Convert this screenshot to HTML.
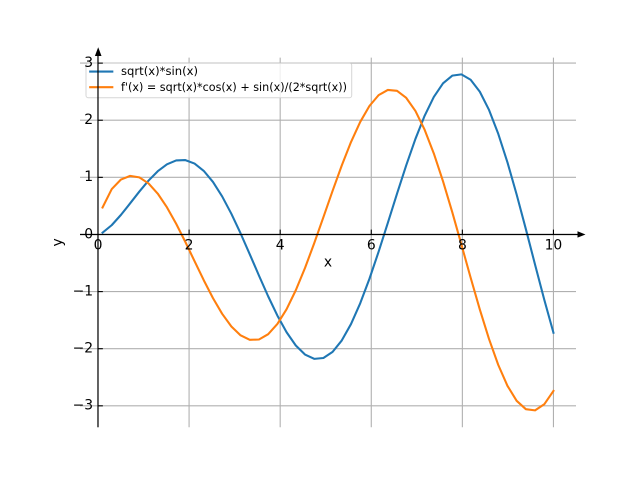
<!DOCTYPE html>
<html>
<head>
<meta charset="utf-8">
<style>
html,body{margin:0;padding:0;background:#ffffff;}
svg{display:block;}
text{font-family:"DejaVu Sans","Liberation Sans",sans-serif;fill:#000;}
</style>
</head>
<body>
<svg width="640" height="480" viewBox="0 0 640 480" xmlns="http://www.w3.org/2000/svg">
<rect x="0" y="0" width="640" height="480" fill="#ffffff"/>
<!-- grid -->
<g stroke="#b0b0b0" stroke-width="1.1" fill="none">
<line x1="97.99" y1="57.6" x2="97.99" y2="427.2"/>
<line x1="189.08" y1="57.6" x2="189.08" y2="427.2"/>
<line x1="280.18" y1="57.6" x2="280.18" y2="427.2"/>
<line x1="371.27" y1="57.6" x2="371.27" y2="427.2"/>
<line x1="462.36" y1="57.6" x2="462.36" y2="427.2"/>
<line x1="553.45" y1="57.6" x2="553.45" y2="427.2"/>
<line x1="80" y1="63.11" x2="576" y2="63.11"/>
<line x1="80" y1="120.23" x2="576" y2="120.23"/>
<line x1="80" y1="177.35" x2="576" y2="177.35"/>
<line x1="80" y1="234.47" x2="576" y2="234.47"/>
<line x1="80" y1="291.59" x2="576" y2="291.59"/>
<line x1="80" y1="348.71" x2="576" y2="348.71"/>
<line x1="80" y1="405.83" x2="576" y2="405.83"/>
</g>
<!-- series -->
<polyline fill="none" stroke="#1f77b4" stroke-width="2.08" stroke-linejoin="round" stroke-linecap="square" points="102.55,232.67 111.75,225.13 120.95,214.88 130.15,203.33 139.35,191.56 148.56,180.56 157.76,171.21 166.96,164.29 176.16,160.43 185.37,160.09 194.57,163.55 203.77,170.88 212.97,181.95 222.17,196.44 231.38,213.81 240.58,233.36 249.78,254.27 258.98,275.61 268.19,296.37 277.39,315.57 286.59,332.23 295.79,345.47 304.99,354.54 314.20,358.85 323.40,358.00 332.60,351.84 341.80,340.42 351.00,324.06 360.21,303.29 369.41,278.86 378.61,251.72 387.81,222.95 397.02,193.73 406.22,165.31 415.42,138.93 424.62,115.78 433.82,96.93 443.03,83.31 452.23,75.64 461.43,74.39 470.63,79.78 479.84,91.75 489.04,109.95 498.24,133.76 507.44,162.30 516.64,194.50 525.85,229.06 535.05,264.61 544.25,299.66 553.45,332.74"/>
<polyline fill="none" stroke="#ff7f0e" stroke-width="2.08" stroke-linejoin="round" stroke-linecap="square" points="102.55,207.48 111.75,189.04 120.95,179.53 130.15,175.90 139.35,177.36 148.56,183.44 157.76,193.64 166.96,207.33 176.16,223.76 185.37,242.03 194.57,261.20 203.77,280.22 212.97,298.09 222.17,313.81 231.38,326.48 240.58,335.35 249.78,339.82 258.98,339.49 268.19,334.19 277.39,323.98 286.59,309.15 295.79,290.25 304.99,267.98 314.20,243.27 323.40,217.17 332.60,190.81 341.80,165.37 351.00,142.04 360.21,121.92 369.41,106.01 378.61,95.14 387.81,89.94 397.02,90.80 406.22,97.85 415.42,110.95 424.62,129.71 433.82,153.45 443.03,181.28 452.23,212.10 461.43,244.66 470.63,277.60 479.84,309.53 489.04,339.05 498.24,364.86 507.44,385.77 516.64,400.80 525.85,409.17 535.05,410.40 544.25,404.29 553.45,390.95"/>
<!-- legend -->
<rect x="86" y="63.1" width="265.7" height="34.6" rx="2.2" ry="2.2" fill="#ffffff" fill-opacity="0.8" stroke="#cccccc" stroke-opacity="0.8" stroke-width="1"/>
<line x1="90.2" y1="71.6" x2="112.3" y2="71.6" stroke="#1f77b4" stroke-width="2.08" stroke-linecap="square"/>
<line x1="90.2" y1="87.2" x2="112.3" y2="87.2" stroke="#ff7f0e" stroke-width="2.08" stroke-linecap="square"/>
<text x="121" y="75.2" font-size="11.1" textLength="77" lengthAdjust="spacingAndGlyphs">sqrt(x)*sin(x)</text>
<text x="121" y="91.1" font-size="11.1" textLength="226" lengthAdjust="spacingAndGlyphs">f'(x) = sqrt(x)*cos(x) + sin(x)/(2*sqrt(x))</text>
<!-- spines -->
<g stroke="#000" stroke-width="1.2" fill="none">
<line x1="80" y1="234.47" x2="579" y2="234.47"/>
<line x1="97.99" y1="427.2" x2="97.99" y2="54"/>
</g>
<!-- ticks (direction in) -->
<g stroke="#000" stroke-width="1.1">
<line x1="189.08" y1="234.47" x2="189.08" y2="229.6"/>
<line x1="280.18" y1="234.47" x2="280.18" y2="229.6"/>
<line x1="371.27" y1="234.47" x2="371.27" y2="229.6"/>
<line x1="462.36" y1="234.47" x2="462.36" y2="229.6"/>
<line x1="553.45" y1="234.47" x2="553.45" y2="229.6"/>
<line x1="97.99" y1="63.11" x2="102.85" y2="63.11"/>
<line x1="97.99" y1="120.23" x2="102.85" y2="120.23"/>
<line x1="97.99" y1="177.35" x2="102.85" y2="177.35"/>
<line x1="97.99" y1="291.59" x2="102.85" y2="291.59"/>
<line x1="97.99" y1="348.71" x2="102.85" y2="348.71"/>
<line x1="97.99" y1="405.83" x2="102.85" y2="405.83"/>
</g>
<!-- arrows -->
<polygon points="585.5,234.47 577.5,231.3 577.5,237.65" fill="#000"/>
<polygon points="98.2,47.3 94.9,56 101.5,56" fill="#000"/>
<!-- x tick labels -->
<g font-size="13.9" text-anchor="middle">
<text x="97.99" y="249.3">0</text>
<text x="189.08" y="249.3">2</text>
<text x="280.18" y="249.3">4</text>
<text x="371.27" y="249.3">6</text>
<text x="462.36" y="249.3">8</text>
<text x="553.45" y="249.3">10</text>
</g>
<!-- y tick labels -->
<g font-size="13.9" text-anchor="end">
<text x="93.1" y="67.0">3</text>
<text x="93.1" y="124.1">2</text>
<text x="93.1" y="181.2">1</text>
<text x="93.1" y="238.3">0</text>
<text x="93.1" y="295.5">−1</text>
<text x="93.1" y="352.6">−2</text>
<text x="93.1" y="409.7">−3</text>
</g>
<!-- axis labels -->
<text x="328" y="266.7" font-size="13.9" text-anchor="middle">x</text>
<text transform="translate(62.2,242.4) rotate(-90)" x="0" y="0" font-size="13.9" text-anchor="middle">y</text>
</svg>
</body>
</html>
